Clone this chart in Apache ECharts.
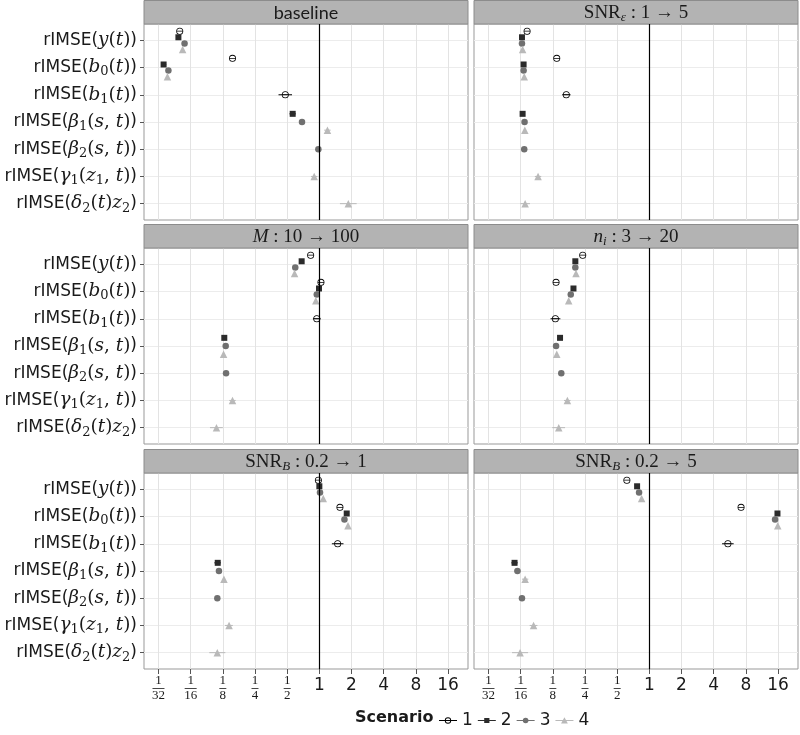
<!DOCTYPE html>
<html><head><meta charset="utf-8">
<script src="https://cdn.jsdelivr.net/npm/echarts@6/dist/echarts.min.js"></script>
<style>html,body{margin:0;padding:0;background:#fff}#c{width:800px;height:735px}</style>
</head><body><div id="c"></div>
<script>
// ---------- categories / labels ----------
const categories = ['rIMSE(y(t))','rIMSE(b0(t))','rIMSE(b1(t))','rIMSE(β1(s,t))','rIMSE(β2(s,t))','rIMSE(γ1(z1,t))','rIMSE(δ2(t)z2)'];
const categoryLabels = [
  '{s|rIMSE(}{mi|y}{mr|(}{mi|t}{mr|)}{s|)}',
  '{s|rIMSE(}{mi|b}{sub|0}{mr|(}{mi|t}{mr|)}{s|)}',
  '{s|rIMSE(}{mi|b}{sub|1}{mr|(}{mi|t}{mr|)}{s|)}',
  '{s|rIMSE(}{mi|β}{sub|1}{mr|(}{mi|s}{mr|, }{mi|t}{mr|)}{s|)}',
  '{s|rIMSE(}{mi|β}{sub|2}{mr|(}{mi|s}{mr|, }{mi|t}{mr|)}{s|)}',
  '{s|rIMSE(}{mi|γ}{sub|1}{mr|(}{mi|z}{sub|1}{mr|, }{mi|t}{mr|)}{s|)}',
  '{s|rIMSE(}{mi|δ}{sub|2}{mr|(}{mi|t}{mr|)}{mi|z}{sub|2}{s|)}'
];
const panelTitles = ['baseline','SNR_ε : 1 → 5','M : 10 → 100','n_i : 3 → 20','SNR_B : 0.2 → 1','SNR_B : 0.2 → 5'];
const panelLabels = [
  '{ss|baseline}',
  '{r|SNR}{subi|ε}{r| : 1 → 5}',
  '{i|M}{r| : 10 → 100}',
  '{i|n}{subi|i}{r| : 3 → 20}',
  '{r|SNR}{subi|B}{r| : 0.2 → 1}',
  '{r|SNR}{subi|B}{r| : 0.2 → 5}'
];
const scenarios = ['1','2','3','4'];
const xTicks = [1/32, 1/16, 1/8, 1/4, 1/2, 1, 2, 4, 8, 16];

// ---------- values (relative IMSE), index = category ----------
const baseline_s1 = [0.0494, 0.154, 0.480, null, null, null, null];
const baseline_s2 = [0.0480, 0.0349, null, 0.563, null, null, null];
const baseline_s3 = [0.0548, 0.0387, null, 0.688, 0.979, null, null];
const baseline_s4 = [0.0526, 0.0379, null, 1.19, null, 0.895, 1.866];

const snrEps_s1 = [0.0718, 0.136, 0.167, null, null, null, null];
const snrEps_s2 = [0.0643, 0.0666, null, 0.0652, null, null, null];
const snrEps_s3 = [0.0643, 0.0666, null, 0.0680, 0.0675, null, null];
const snrEps_s4 = [0.0652, 0.0675, null, 0.0684, null, 0.0909, 0.0688];

const m_s1 = [0.829, 1.035, 0.946, null, null, null, null];
const m_s2 = [0.683, 0.993, null, 0.129, null, null, null];
const m_s3 = [0.595, 0.946, null, 0.133, 0.134, null, null];
const m_s4 = [0.586, 0.927, null, 0.127, null, 0.154, 0.109];

const ni_s1 = [0.238, 0.134, 0.132, null, null, null, null];
const ni_s2 = [0.203, 0.195, null, 0.146, null, null, null];
const ni_s3 = [0.203, 0.184, null, 0.134, 0.150, null, null];
const ni_s4 = [0.206, 0.176, null, 0.136, null, 0.171, 0.142];

const snrB1_s1 = [0.979, 1.558, 1.484, null, null, null, null];
const snrB1_s2 = [1.000, 1.803, null, 0.112, null, null, null];
const snrB1_s3 = [1.014, 1.717, null, 0.115, 0.111, null, null];
const snrB1_s4 = [1.087, 1.853, null, 0.128, null, 0.143, 0.111];

const snrB5_s1 = [0.616, 7.21, 5.43, null, null, null, null];
const snrB5_s2 = [0.768, 15.8, null, 0.0548, null, null, null];
const snrB5_s3 = [0.801, 15.0, null, 0.0583, 0.0643, null, null];
const snrB5_s4 = [0.847, 15.9, null, 0.0688, null, 0.0825, 0.0617];

// ---------- interval bounds: [scenario index, category index, lower, upper] ----------
const baseline_ci = [[0,2,0.415,0.555],[1,1,0.0330,0.0369],[1,3,0.525,0.603],[2,3,0.651,0.727],[2,4,0.927,1.035],[3,3,1.110,1.274],[3,5,0.835,0.959],[3,6,1.558,2.234]];
const snrEps_ci = [[0,2,0.153,0.183],[3,5,0.0848,0.0974],[3,6,0.0621,0.0764]];
const m_ci = [[0,2,0.871,1.028],[3,5,0.1436,0.165],[3,6,0.0947,0.125]];
const ni_ci = [[0,2,0.119,0.147],[3,5,0.159,0.183],[3,6,0.1234,0.1627]];
const snrB1_ci = [[0,2,1.310,1.682],[1,3,0.104,0.120],[2,3,0.109,0.121],[3,5,0.131,0.155],[3,6,0.0934,0.132]];
const snrB5_ci = [[0,2,4.79,6.15],[1,3,0.0511,0.0587],[2,3,0.0544,0.0625],[3,3,0.0643,0.0737],[2,4,0.0608,0.068],[3,5,0.0759,0.0897],[3,6,0.0519,0.0733]];

const panelValues = [
  [baseline_s1, baseline_s2, baseline_s3, baseline_s4],
  [snrEps_s1, snrEps_s2, snrEps_s3, snrEps_s4],
  [m_s1, m_s2, m_s3, m_s4],
  [ni_s1, ni_s2, ni_s3, ni_s4],
  [snrB1_s1, snrB1_s2, snrB1_s3, snrB1_s4],
  [snrB5_s1, snrB5_s2, snrB5_s3, snrB5_s4]
];
const panelCI = [baseline_ci, snrEps_ci, m_ci, ni_ci, snrB1_ci, snrB5_ci];

// ---------- styling ----------
const SANS = 'DejaVu Sans', SERIF = 'DejaVu Serif', TSERIF = 'Liberation Serif';
const colors = ['#000000', '#2b2b2b', '#707070', '#b9b9b9'];
const DODGE_WIDTH = 0.9;
const ringPath = 'path://M0,-10 A10,10 0 1,1 0,10 A10,10 0 1,1 0,-10 Z M0,-7.8 A7.8,7.8 0 1,0 0,7.8 A7.8,7.8 0 1,0 0,-7.8 Z M-10,-0.8 L10,-0.8 L10,0.8 L-10,0.8 Z';
const symbols = [ringPath, 'rect', 'circle', 'triangle'];
const symbolSizes = [7, 6, 6.5, 7.5];
const LINE = 'M0,0 L0.01,0 Z M0,8 L0.01,8 Z M0,3.6 L18,3.6 L18,4.4 L0,4.4 Z ';
const legendIcons = [
  'path://' + LINE + 'M9,0.8 A3.2,3.2 0 1,1 9,7.2 A3.2,3.2 0 1,1 9,0.8 Z M9,1.7 A2.3,2.3 0 1,0 9,6.3 A2.3,2.3 0 1,0 9,1.7 Z',
  'path://' + LINE + 'M6.4,1.4 L11.6,1.4 L11.6,6.6 L6.4,6.6 Z',
  'path://' + LINE + 'M9,1.2 A2.8,2.8 0 1,1 9,6.8 A2.8,2.8 0 1,1 9,1.2 Z',
  'path://' + LINE + 'M9,0.8 L12.4,6.9 L5.6,6.9 Z'
];
const colLeft = [144, 474];
const rowTop = [24, 248, 473];
const panelW = 324, panelH = 196, stripH = 23.5;
const TXT = '#1a1a1a';

const yRich = {
  s: {fontFamily: SANS, fontSize: 17, lineHeight: 22, color: TXT},
  mi: {fontFamily: SERIF, fontStyle: 'italic', fontSize: 18.5, lineHeight: 22, color: TXT},
  mr: {fontFamily: SERIF, fontSize: 18.5, lineHeight: 22, color: TXT},
  sub: {fontFamily: SERIF, fontSize: 13, lineHeight: 13, verticalAlign: 'bottom', color: TXT}
};
const xRich = {
  i: {fontFamily: SANS, fontSize: 17, lineHeight: 22, color: TXT},
  n: {fontFamily: TSERIF, fontSize: 13, lineHeight: 12, color: TXT, align: 'center'},
  d: {fontFamily: TSERIF, fontSize: 13, lineHeight: 12, color: TXT, align: 'center'},
  b1: {width: 7, height: 0.8, lineHeight: 3, backgroundColor: TXT, align: 'center'},
  b2: {width: 12, height: 0.8, lineHeight: 3, backgroundColor: TXT, align: 'center'}
};
const stripRich = {
  ss: {fontFamily: 'Lato', fontSize: 18, lineHeight: 22, color: TXT},
  r: {fontFamily: TSERIF, fontSize: 19, lineHeight: 22, color: TXT},
  i: {fontFamily: TSERIF, fontStyle: 'italic', fontSize: 19, lineHeight: 22, color: TXT},
  subi: {fontFamily: TSERIF, fontStyle: 'italic', fontSize: 13, lineHeight: 13, verticalAlign: 'bottom', color: TXT}
};

function xFormatter(v) {
  if (v > 0.99) return '{i|' + Math.round(v) + '}';
  const d = Math.round(1 / v);
  return '{n|1}\n{' + (d >= 10 ? 'b2' : 'b1') + '| }\n{d|' + d + '}';
}
// position_dodge: offset depends on how many scenarios are present in a category
function dodgedY(p, s, c) {
  const present = [];
  for (let k = 0; k < 4; k++) if (panelValues[p][k][c] != null) present.push(k);
  const n = present.length, idx = present.indexOf(s);
  return c + 1 + (idx - (n - 1) / 2) * DODGE_WIDTH / n;
}

const grids = [], xAxes = [], yAxes = [], series = [], graphics = [];
for (let p = 0; p < 6; p++) {
  const col = p % 2, row = Math.floor(p / 2);
  const left = colLeft[col], top = rowTop[row];
  const bottomRow = row === 2, leftCol = col === 0;
  grids.push({left: left, top: top, width: panelW, height: panelH, show: true,
    backgroundColor: '#fff', borderColor: '#999', borderWidth: 1});
  xAxes.push({gridIndex: p, type: 'log', logBase: 2,
    min: Math.pow(2, -5.45), max: Math.pow(2, 4.62),
    axisLine: {show: false},
    axisTick: {show: bottomRow, customValues: xTicks, length: 5, lineStyle: {color: '#555'}},
    axisLabel: {show: bottomRow, customValues: xTicks, formatter: xFormatter, rich: xRich, margin: 6,
      showMinLabel: true, showMaxLabel: true, hideOverlap: false},
    splitLine: {show: true, lineStyle: {color: '#e3e3e3', width: 1}},
    minorSplitLine: {show: false}
  });
  yAxes.push({gridIndex: p, type: 'value', inverse: true, min: 0.4, max: 7.6,
    axisLine: {show: false},
    axisTick: {show: leftCol, customValues: [1,2,3,4,5,6,7], length: 4, lineStyle: {color: '#555'}},
    axisLabel: {show: leftCol, customValues: [1,2,3,4,5,6,7], margin: 7,
      formatter: v => categoryLabels[Math.round(v) - 1], rich: yRich},
    splitLine: {show: true, lineStyle: {color: '#ececec', width: 1}}
  });
  // interval bars
  series.push({
    type: 'custom', name: 'ci', xAxisIndex: p, yAxisIndex: p, z: 2, clip: true,
    encode: {x: [0, 1], y: 2},
    data: panelCI[p].map(r => [r[2], r[3], dodgedY(p, r[0], r[1]), r[0]]),
    renderItem: function (params, api) {
      const y = api.value(2), s = api.value(3);
      const a = api.coord([api.value(0), y]), b = api.coord([api.value(1), y]);
      return {type: 'line', shape: {x1: a[0], y1: a[1], x2: b[0], y2: b[1]},
        style: {stroke: colors[s], lineWidth: 1}};
    },
    markLine: {silent: true, symbol: 'none', label: {show: false},
      lineStyle: {color: '#000', type: 'solid', width: 1.2},
      data: [{xAxis: 1}]}
  });
  for (let s = 0; s < 4; s++) {
    const vals = panelValues[p][s];
    const data = [];
    vals.forEach((v, c) => { if (v != null) data.push([v, dodgedY(p, s, c)]); });
    series.push({type: 'scatter', name: scenarios[s], xAxisIndex: p, yAxisIndex: p, z: 3,
      symbol: symbols[s], symbolSize: symbolSizes[s],
      itemStyle: {color: colors[s], opacity: 1},
      emphasis: {disabled: true}, data: data});
  }
  // strip
  graphics.push({type: 'rect', shape: {x: left, y: top - stripH, width: panelW, height: stripH},
    style: {fill: '#b3b3b3', stroke: '#8c8c8c', lineWidth: 1}, z: 5});
  graphics.push({type: 'text', x: left + panelW / 2, y: top - stripH / 2 + 0.5, z: 6,
    style: {text: panelLabels[p], align: 'center', verticalAlign: 'middle',
      textAlign: 'center', textVerticalAlign: 'middle', rich: stripRich, fill: TXT}});
}
graphics.push({type: 'text', x: 355, y: 718, style: {text: 'Scenario', font: 'bold 16px "DejaVu Sans"',
  fill: TXT, align: 'left', verticalAlign: 'middle', textAlign: 'left', textVerticalAlign: 'middle'}});

const chart = echarts.init(document.getElementById('c'), null, {renderer: 'canvas'});
chart.setOption({
  animation: false,
  backgroundColor: '#fff',
  grid: grids, xAxis: xAxes, yAxis: yAxes, series: series,
  graphic: graphics,
  legend: {left: 434, top: 707, itemWidth: 18, itemHeight: 8, itemGap: 5, selectedMode: false,
    textStyle: {fontFamily: SANS, fontSize: 17, color: TXT},
    data: scenarios.map((n, i) => ({name: n, icon: legendIcons[i]}))}
});
</script></body></html>
